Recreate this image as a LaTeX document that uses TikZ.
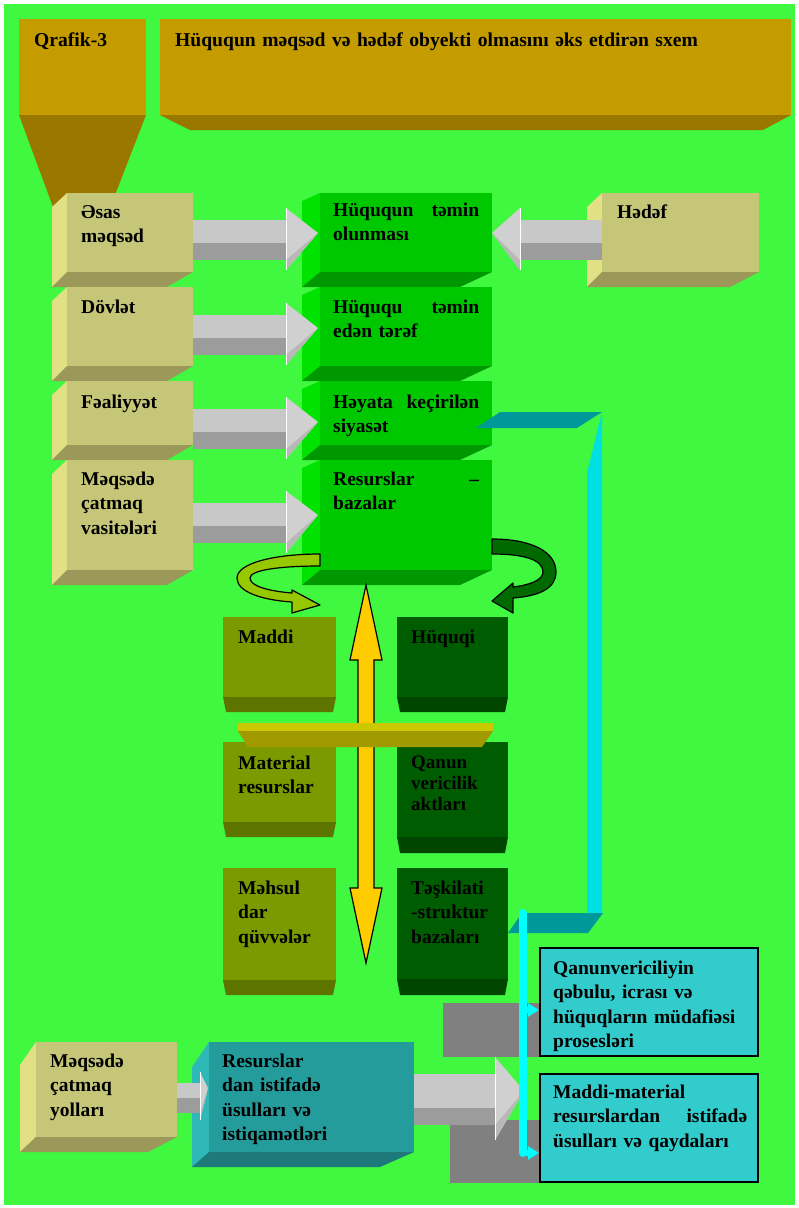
\documentclass[tikz,border=0pt]{standalone}
\usepackage{fontspec}
\setmainfont{Liberation Serif}
\usetikzlibrary{arrows.meta}
\definecolor{bg}{RGB}{64,248,64}
\definecolor{goldF}{RGB}{196,156,0}
\definecolor{goldB}{RGB}{154,120,0}
\definecolor{tanF}{RGB}{198,198,120}
\definecolor{tanS}{RGB}{226,224,132}
\definecolor{tanB}{RGB}{155,152,90}
\definecolor{grnF}{RGB}{0,200,0}
\definecolor{grnS}{RGB}{0,226,0}
\definecolor{grnB}{RGB}{0,152,0}
\definecolor{olvF}{RGB}{122,154,0}
\definecolor{olvB}{RGB}{94,116,0}
\definecolor{dgrF}{RGB}{0,92,0}
\definecolor{dgrB}{RGB}{0,70,0}
\definecolor{tealF}{RGB}{36,156,156}
\definecolor{tealS}{RGB}{46,184,184}
\definecolor{tealB}{RGB}{30,122,122}
\definecolor{cyBox}{RGB}{51,204,204}
\definecolor{cyPar}{RGB}{0,153,153}
\definecolor{cyBar}{RGB}{0,224,224}
\definecolor{cyLine}{RGB}{0,255,255}
\definecolor{grayR}{RGB}{128,128,128}
\definecolor{arrL}{RGB}{200,200,200}
\definecolor{arrD}{RGB}{156,156,156}
\definecolor{arrH}{RGB}{208,208,208}
\definecolor{arrS}{RGB}{184,184,184}
\definecolor{barT}{RGB}{204,200,0}
\definecolor{barB}{RGB}{160,154,0}
\definecolor{yelA}{RGB}{255,204,0}
\definecolor{lcurv}{RGB}{150,200,0}
\definecolor{rcurv}{RGB}{0,106,0}
% 3D box: family, x1,y1,x2,y2, dx, dy, inset, slant
\newcommand\cube[9]{%
  \fill[#1S] ({#2-#6},{#3+#9}) -- (#2,#3) -- (#2,#5) -- ({#2-#6},{#5+#7}) -- cycle;
  \fill[#1B] (#2,#5) -- (#4,#5) -- ({#4-#8},{#5+#7}) -- ({#2-#6},{#5+#7}) -- cycle;
  \fill[#1F] (#2,#3) rectangle (#4,#5);
}
% flat box: family, x1,y1,x2,y2, dy, inset
\newcommand\flatbox[7]{%
  \fill[#1B] (#2,#5) -- (#4,#5) -- ({#4-#7},{#5+#6}) -- ({#2+#7},{#5+#6}) -- cycle;
  \fill[#1F] (#2,#3) rectangle (#4,#5);
}
% block arrow: x0,x1,x2, shaft top, shaft mid, shaft bottom, head top, tip y, head bottom
\newcommand\garrow[9]{%
  \fill[arrL] (#1,#4) rectangle (#2,#5);
  \fill[arrD] (#1,#5) rectangle (#2,#6);
  \fill[arrH] (#2,#7) -- (#3,#8) -- (#2,#9) -- cycle;
  \fill[arrS] (#2,#6) -- (#3,#8) -- (#2,#9) -- cycle;
  \draw[white,line width=0.8] (#2,#7) -- (#2,#9);
}
\tikzset{
  lbl/.style={font=\bfseries\fontsize{19.5}{24.5}\selectfont, inner sep=0pt, anchor=north west, align=left},
  ttl/.style={font=\bfseries\fontsize{19.6}{24.5}\selectfont},
  curv/.style={draw=black, line width=1.2, line join=round},
  cybox/.style={draw=black, line width=2, fill=cyBox, inner sep=0pt},
  cyl/.style={cyLine, line width=8, line cap=round},
  cyarr/.style={cyLine, line width=6, -{Triangle[length=11pt,width=13pt]}}
}
\newcommand\lab[6][]{\node[lbl,text width=#5,#1] (#2) at (#3,{#4-17.15}) {\strut #6};}
\begin{document}
\begin{tikzpicture}[x=1pt,y=-1pt]
\useasboundingbox (0,0) rectangle (799,1208);
\fill[white] (0,0) rectangle (799,1208);
\fill[bg] (4,4) rectangle (795,1205);

% header
\fill[goldB] (19,115) -- (146,115) -- (115,195) -- (53,207) -- cycle;
\fill[goldF] (19,19) rectangle (146,115);
\fill[goldB] (160,115) -- (791,115) -- (763,130) -- (190,130) -- cycle;
\fill[goldF] (160,19) rectangle (791,115);

% left tan boxes
\cube{tan}{67}{193}{193}{272}{15}{15}{26}{14}
\cube{tan}{67}{287}{193}{366}{15}{15}{26}{14}
\cube{tan}{67}{381}{193}{445}{15}{15}{26}{14}
\cube{tan}{67}{460}{193}{570}{15}{15}{26}{14}
% centre green boxes
\cube{grn}{320}{193}{492}{272}{18}{15}{32}{8}
\cube{grn}{320}{287}{492}{366}{18}{15}{32}{8}
\cube{grn}{320}{381}{492}{445}{18}{15}{32}{8}
\cube{grn}{320}{460}{492}{570}{18}{15}{32}{8}
% target box
\cube{tan}{602}{193}{759}{272}{15}{15}{29}{14}

% gray arrows
\garrow{193}{286}{318}{220}{243}{260}{208}{233}{270}
\garrow{193}{286}{318}{315}{338}{355}{303}{328}{365}
\garrow{193}{286}{318}{409}{432}{449}{397}{422}{459}
\garrow{193}{286}{318}{503}{526}{543}{491}{515}{553}
\garrow{602}{520}{492}{220}{243}{260}{208}{233}{270}

% curved arrows
\path[curv,fill=lcurv] (320,554) .. controls (275,554) and (237,563) .. (237,578)
  .. controls (237,592) and (262,600) .. (292,602) -- (292,613) -- (320,605) -- (292,590) -- (292,593)
  .. controls (268,591) and (250,586) .. (250,578) .. controls (250,570) and (280,566) .. (320,566) -- cycle;
\path[curv,fill=rcurv] (492,539) .. controls (532,539) and (556,552) .. (556,572)
  .. controls (556,588) and (540,596) .. (513,598) -- (513,613) -- (492,601) -- (513,583) -- (513,587)
  .. controls (530,585) and (543,580) .. (543,572) .. controls (543,560) and (525,554) .. (492,554) -- cycle;

% lower olive / dark green boxes
\flatbox{olv}{223}{617}{336}{697}{15}{3}
\flatbox{olv}{223}{742}{336}{822}{15}{3}
\flatbox{olv}{223}{868}{336}{980}{15}{3}
\flatbox{dgr}{397}{617}{508}{697}{15}{3}
\flatbox{dgr}{397}{742}{508}{837}{16}{3}
\flatbox{dgr}{397}{868}{508}{979}{16}{3}

% yellow double arrow
\draw[fill=yelA, line width=1.2, line join=miter] (366,585) -- (382,660) -- (374,660) -- (374,888) -- (382,888)
  -- (366,963) -- (350,888) -- (358,888) -- (358,660) -- (350,660) -- cycle;
% shelf bar
\fill[barB] (238,731) -- (493,731) -- (482,747) -- (248,747) -- cycle;
\fill[barT] (238,723) rectangle (493,731);

% cyan connector from policy box
\fill[cyPar] (476,428) -- (500,412) -- (602,412) -- (577,428) -- cycle;
\fill[cyBar] (587,473) -- (602,412) -- (602,913) -- (587,913) -- cycle;
\fill[cyPar] (508,933) -- (522,913) -- (603,913) -- (588,933) -- cycle;

% bottom part
\fill[grayR] (443,1003) rectangle (540,1057);
\fill[grayR] (450,1120) rectangle (540,1183);
\cube{tan}{36}{1042}{177}{1137}{16}{15}{29}{23}
\cube{teal}{209}{1042}{414}{1152}{17}{15}{34}{25}
\garrow{177}{200}{208}{1083}{1098}{1113}{1072}{1088}{1120}
\garrow{414}{495}{524}{1074}{1108}{1125}{1057}{1091}{1140}

\node[cybox, minimum width=218, minimum height=108] (bA) at (649,1002) {};
\node[cybox, minimum width=218, minimum height=108] (bB) at (649,1128) {};

\coordinate (cyTop) at (523,913);
\coordinate (cyBot) at (523,1153);
\coordinate (cyA) at (523,1010);
\draw[cyl] (cyTop) -- (cyBot);
\draw[cyarr] (cyA) -- (cyA -| bA.west);
\draw[cyarr] (cyBot) -- (cyBot -| bB.west);

% texts
\lab[ttl]{tQ}{34}{46}{110}{Qrafik-3}
\lab[ttl]{tT}{175}{46}{610}{Hüququn məqsəd və hədəf obyekti olmasını əks etdirən sxem}
\lab{t1}{81}{218}{110}{Əsas\\məqsəd}
\lab{t2}{81}{313}{110}{Dövlət}
\lab{t3}{81}{408}{110}{Fəaliyyət}
\lab{t4}{81}{485}{110}{Məqsədə\\çatmaq\\vasitələri}
\lab{c1}{333}{216}{146}{Hüququn\hfill təmin\\olunması}
\lab{c2}{333}{313}{146}{Hüququ\hfill təmin\\edən tərəf}
\lab{c3}{333}{408}{146}{Həyata\hfill keçirilən\\siyasət}
\lab{c4}{333}{485}{146}{Resurslar\hfill –\\bazalar}
\lab{th}{617}{218}{130}{Hədəf}
\lab{m1}{238}{643}{95}{Maddi}
\lab{m2}{238}{769}{95}{Material\\resurslar}
\lab{m3}{238}{894}{95}{Məhsul\\dar\\qüvvələr}
\lab{h1}{411}{643}{95}{Hüquqi}
\lab[font=\bfseries\fontsize{19}{21}\selectfont, yshift=-2.45pt]{h2}{411}{768}{95}{Qanun\\vericilik\\aktları}
\lab{h3}{411}{894}{95}{Təşkilati\\-struktur\\bazaları}
\lab{qA}{553}{974}{200}{Qanunvericiliyin\\qəbulu, icrası və\\hüquqların müdafiəsi\\prosesləri}
\lab{qB}{553}{1098}{194}{Maddi-material\\resurslardan\hfill istifadə\\üsulları və qaydaları}
\lab{y1}{50}{1067}{120}{Məqsədə\\çatmaq\\yolları}
\lab{y2}{222}{1067}{190}{Resurslar\\dan istifadə\\üsulları və\\istiqamətləri}
\end{tikzpicture}
\end{document}
